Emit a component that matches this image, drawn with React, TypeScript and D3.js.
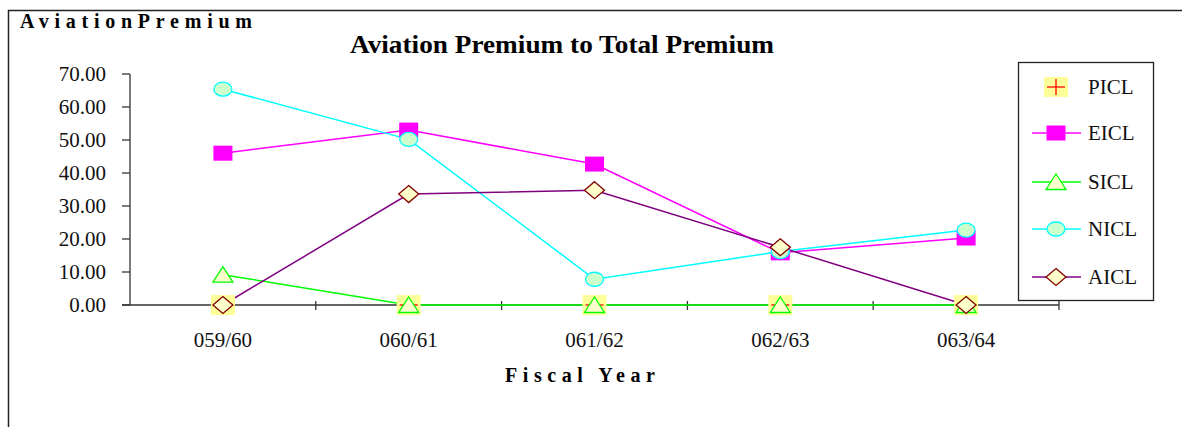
import React from "react";
import * as d3 from "d3";

const categories = ["059/60", "060/61", "061/62", "062/63", "063/64"];
const seriesNames = ["PICL", "EICL", "SICL", "NICL", "AICL"];
const picl = [0, 0, 0, 0, 0];
const eicl = [46.0, 53.0, 42.7, 15.8, 20.3];
const sicl = [9.2, 0, 0, 0, 0];
const nicl = [65.4, 50.2, 7.8, 16.2, 22.7];
const aicl = [0, 33.6, 34.8, 17.5, 0];
const yTicks = [0, 10, 20, 30, 40, 50, 60, 70];

const FONT = "'Liberation Serif', 'Times New Roman', serif";

type Style = { line: string | null; marker: string };
const styles: Record<string, Style> = {
  PICL: { line: null, marker: "plus" },
  EICL: { line: "#ff00ff", marker: "square" },
  SICL: { line: "#00ff00", marker: "triangle" },
  NICL: { line: "#00ffff", marker: "ellipse" },
  AICL: { line: "#800080", marker: "diamond" },
};

function Marker({ type, cx, cy }: { type: string; cx: number; cy: number }) {
  if (type === "plus") {
    return (
      <g>
        <rect x={cx - 12} y={cy - 10} width={24} height={20} fill="#ffff99" />
        <line x1={cx - 9} x2={cx + 9} y1={cy} y2={cy} stroke="#ff0000" strokeWidth={1.3} />
        <line x1={cx} x2={cx} y1={cy - 8} y2={cy + 8} stroke="#ff0000" strokeWidth={1.3} />
      </g>
    );
  }
  if (type === "square") {
    return <rect x={cx - 9.5} y={cy - 7.5} width={19} height={15} fill="#ff00ff" />;
  }
  if (type === "triangle") {
    const p = `${cx},${cy - 8} ${cx + 10},${cy + 7.5} ${cx - 10},${cy + 7.5}`;
    return <polygon points={p} fill="#ffffcc" stroke="#00ff00" strokeWidth={1.3} />;
  }
  if (type === "ellipse") {
    return <ellipse cx={cx} cy={cy} rx={9} ry={7} fill="#ccffcc" stroke="#00ffff" strokeWidth={1.3} />;
  }
  const p = `${cx},${cy - 8.5} ${cx + 10},${cy} ${cx},${cy + 8.5} ${cx - 10},${cy}`;
  return <polygon points={p} fill="#ffffcc" stroke="#800000" strokeWidth={1.3} />;
}

export default function App() {
  const W = 1182;
  const H = 427;
  const x = d3.scaleBand<string>().domain(categories).range([130, 1059]).paddingInner(0).paddingOuter(0);
  const y = d3.scaleLinear().domain([0, 70]).range([305, 74]);
  const cx = (c: string) => (x(c) as number) + x.bandwidth() / 2;

  const data: Record<string, number[]> = { PICL: picl, EICL: eicl, SICL: sicl, NICL: nicl, AICL: aicl };
  const lineGen = d3
    .line<number>()
    .x((_, i) => cx(categories[i]))
    .y((d) => y(d));

  const legendY = [87, 133, 182, 229, 277];
  const axisColor = "#333";

  return (
    <svg
      width={W}
      height={H}
      style={{ position: "absolute", left: 0, top: 0, background: "#fff" }}
      fontFamily={FONT}
    >
      <rect x={0} y={0} width={W} height={H} fill="#fff" />
      {/* outer frame */}
      <line x1={8} x2={W} y1={10.5} y2={10.5} stroke="#222" strokeWidth={1.5} />
      <line x1={8.5} x2={8.5} y1={10} y2={H} stroke="#222" strokeWidth={1.5} />

      <text x={20} y={28} fontSize={20} fontWeight="bold" textLength={232} lengthAdjust="spacing">
        AviationPremium
      </text>
      <text x={562} y={53} fontSize={25} fontWeight="bold" textAnchor="middle" textLength={424} lengthAdjust="spacingAndGlyphs">
        Aviation Premium to Total Premium
      </text>

      {/* y axis */}
      <line x1={130} x2={130} y1={y(70)} y2={y(0)} stroke={axisColor} strokeWidth={1.3} />
      {yTicks.map((t) => (
        <g key={t}>
          <line x1={122} x2={130} y1={y(t)} y2={y(t)} stroke={axisColor} strokeWidth={1.3} />
          <text x={106} y={y(t) + 7} fontSize={21} textAnchor="end" fill="#111">
            {t.toFixed(2)}
          </text>
        </g>
      ))}

      {/* x axis */}
      <line x1={122} x2={1059} y1={y(0)} y2={y(0)} stroke={axisColor} strokeWidth={1.3} />
      {categories.map((c) => (
        <g key={c}>
          <line
            x1={(x(c) as number) + x.bandwidth()}
            x2={(x(c) as number) + x.bandwidth()}
            y1={y(0) - 4}
            y2={y(0) + 5}
            stroke={axisColor}
            strokeWidth={1.3}
          />
          <text x={cx(c)} y={347} fontSize={21} textAnchor="middle" fill="#111">
            {c}
          </text>
        </g>
      ))}
      <text x={580} y={382} fontSize={20} fontWeight="bold" textAnchor="middle" textLength={150} lengthAdjust="spacing">
        Fiscal Year
      </text>

      {/* series */}
      {seriesNames.map((s) =>
        styles[s].line ? (
          <path key={s + "l"} d={lineGen(data[s]) || ""} fill="none" stroke={styles[s].line as string} strokeWidth={1.5} />
        ) : null
      )}
      {seriesNames.map((s) => (
        <g key={s + "m"}>
          {data[s].map((v, i) => (
            <Marker key={i} type={styles[s].marker} cx={cx(categories[i])} cy={y(v)} />
          ))}
        </g>
      ))}

      {/* legend */}
      <rect x={1018.5} y={62.5} width={135} height={238} fill="#fff" stroke="#222" strokeWidth={1.3} />
      {seriesNames.map((s, i) => (
        <g key={s + "leg"}>
          {styles[s].line ? (
            <line x1={1032} x2={1081} y1={legendY[i]} y2={legendY[i]} stroke={styles[s].line as string} strokeWidth={1.5} />
          ) : null}
          <Marker type={styles[s].marker} cx={1056} cy={legendY[i]} />
          <text x={1088} y={legendY[i] + 7} fontSize={21} fill="#111">
            {s}
          </text>
        </g>
      ))}
    </svg>
  );
}
